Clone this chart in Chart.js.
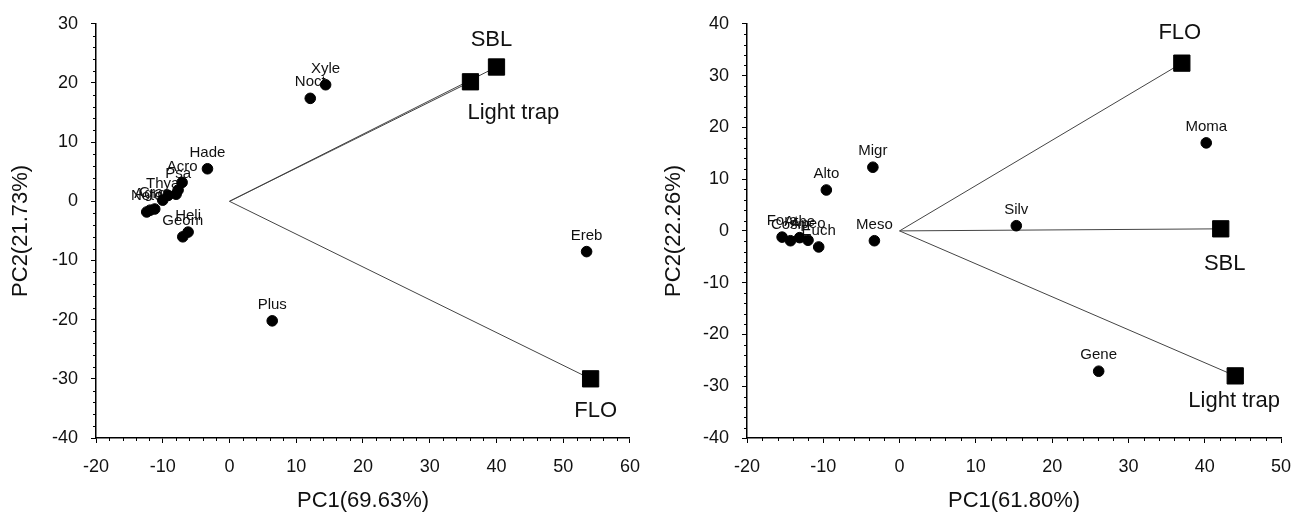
<!DOCTYPE html>
<html lang="en">
<head>
<meta charset="UTF-8">
<title>PCA biplots</title>
<script src="https://cdn.jsdelivr.net/npm/chart.js"></script>
<style>
  html, body { margin: 0; padding: 0; background: #fff; }
  .wrap { display: flex; width: 1307px; height: 519px; }
  .panel { height: 519px; }
</style>
</head>
<body>
<div class="wrap">
  <div class="panel"><canvas id="pcaLeft" width="653" height="519"></canvas></div>
  <div class="panel"><canvas id="pcaRight" width="654" height="519"></canvas></div>
</div>
<script>
// left biplot - taxa scores
const leftTaxa = ['Xyle', 'Noct', 'Hade', 'Acro', 'Psa', '', '', 'Thya', 'Cras', 'Agro', 'Noto', 'Heli', 'Geom', 'Ereb', 'Plus'];
const leftTaxaX = [14.4, 12.1, -3.3, -7.1, -7.7, -8.0, -9.2, -10.0, -11.2, -11.9, -12.4, -6.2, -7.0, 53.5, 6.4];
const leftTaxaY = [19.7, 17.4, 5.5, 3.2, 1.9, 1.2, 1.0, 0.2, -1.3, -1.5, -1.8, -5.2, -6.0, -8.5, -20.2];
// left biplot - method vectors
const leftMethods = ['SBL', 'Light trap', 'FLO'];
const leftMethodX = [40.0, 36.1, 54.1];
const leftMethodY = [22.7, 20.2, -30.0];
const leftXTicks = [-20, -10, 0, 10, 20, 30, 40, 50, 60];
const leftYTicks = [-40, -30, -20, -10, 0, 10, 20, 30];

// right biplot - taxa scores
const rightTaxa = ['Alto', 'Migr', 'Meso', 'Silv', 'Moma', 'Gene', 'Fora', 'Cosm', 'Athe', 'Apeo', 'Euch'];
const rightTaxaX = [-9.6, -3.5, -3.3, 15.3, 40.2, 26.1, -15.4, -14.3, -13.1, -12.0, -10.6];
const rightTaxaY = [7.9, 12.3, -1.9, 1.0, 17.0, -27.1, -1.2, -1.9, -1.3, -1.8, -3.1];
// right biplot - method vectors
const rightMethods = ['FLO', 'SBL', 'Light trap'];
const rightMethodX = [37.0, 42.1, 44.0];
const rightMethodY = [32.4, 0.4, -28.0];
const rightXTicks = [-20, -10, 0, 10, 20, 30, 40, 50];
const rightYTicks = [-40, -30, -20, -10, 0, 10, 20, 30, 40];

const minorStep = 2;
const FONT = "'Liberation Sans', Arial, sans-serif";

// where each method name sits relative to its square: [dx, dy, align]
const leftMethodLabel = { 'SBL': [-5, -27, 'center'], 'Light trap': [-3, 31, 'left'], 'FLO': [5, 32, 'center'] };
const rightMethodLabel = { 'FLO': [-2, -30, 'center'], 'SBL': [4, 35, 'center'], 'Light trap': [-1, 25, 'center'] };

function pts(xs, ys) {
    return xs.map((x, i) => ({ x: x, y: ys[i] }));
}

// draws taxa names under the markers, and method names
const labelPlugin = {
    id: 'pointLabels',
    beforeDatasetsDraw(chart) {
        const ctx = chart.ctx;
        const sx = chart.scales.x, sy = chart.scales.y;
        const p = chart.options.plugins.pointLabels;
        ctx.save();
        ctx.fillStyle = '#111';
        ctx.textBaseline = 'middle';
        ctx.font = '15px ' + FONT;
        ctx.textAlign = 'center';
        p.taxa.forEach((name, i) => {
            if (!name) return;
            ctx.fillText(name, sx.getPixelForValue(p.tx[i]), sy.getPixelForValue(p.ty[i]) - 16);
        });
        ctx.font = '22px ' + FONT;
        p.methods.forEach((name, i) => {
            const [dx, dy, align] = p.placement[name];
            ctx.textAlign = align;
            ctx.fillText(name, sx.getPixelForValue(p.mx[i]) + dx, sy.getPixelForValue(p.my[i]) + dy);
        });
        ctx.restore();
    }
};

// small outward ticks between the labelled ones
const minorTickPlugin = {
    id: 'minorTicks',
    afterDraw(chart) {
        const ctx = chart.ctx;
        const area = chart.chartArea;
        const sx = chart.scales.x, sy = chart.scales.y;
        ctx.save();
        ctx.strokeStyle = '#000';
        ctx.lineWidth = 1;
        ctx.beginPath();
        for (let v = sx.min; v <= sx.max; v += minorStep) {
            if (v % 10 === 0) continue;
            const x = Math.round(sx.getPixelForValue(v)) + 0.5;
            ctx.moveTo(x, area.bottom);
            ctx.lineTo(x, area.bottom + 3);
        }
        for (let v = sy.min; v <= sy.max; v += minorStep) {
            if (v % 10 === 0) continue;
            const y = Math.round(sy.getPixelForValue(v)) + 0.5;
            ctx.moveTo(area.left, y);
            ctx.lineTo(area.left - 3, y);
        }
        ctx.stroke();
        ctx.restore();
    }
};

function makeBiplot(id, d) {
    const datasets = [
        {
            data: pts(d.tx, d.ty),
            backgroundColor: '#000',
            borderColor: '#000',
            pointRadius: 5.3,
            pointHoverRadius: 5.3,
            order: 0
        },
        {
            data: pts(d.mx, d.my),
            backgroundColor: '#000',
            borderColor: '#000',
            pointStyle: 'rect',
            pointRadius: 11.5,
            pointHoverRadius: 11.5,
            order: 1
        }
    ];
    // vector from the origin to each method
    d.mx.forEach((x, i) => {
        datasets.push({
            type: 'line',
            data: [{ x: 0, y: 0 }, { x: x, y: d.my[i] }],
            borderColor: '#444',
            borderWidth: 1,
            pointRadius: 0,
            fill: false,
            order: 2
        });
    });

    const axisFont = { family: FONT, size: 18 };
    const titleFont = { family: FONT, size: 22 };

    return new Chart(document.getElementById(id), {
        type: 'scatter',
        data: { datasets: datasets },
        plugins: [labelPlugin, minorTickPlugin],
        options: {
            responsive: false,
            animation: false,
            devicePixelRatio: 1,
            layout: { padding: { top: 20, right: d.padRight, left: 0, bottom: 0 } },
            plugins: {
                legend: { display: false },
                tooltip: { enabled: false },
                pointLabels: { taxa: d.taxa, tx: d.tx, ty: d.ty, methods: d.methods, mx: d.mx, my: d.my, placement: d.placement }
            },
            scales: {
                x: {
                    type: 'linear',
                    min: d.xTicks[0],
                    max: d.xTicks[d.xTicks.length - 1],
                    afterBuildTicks: s => { s.ticks = d.xTicks.map(v => ({ value: v })); },
                    afterFit: s => { s.height = 81; },
                    grid: { drawOnChartArea: false, drawTicks: true, tickLength: 5, tickColor: '#000' },
                    border: { display: true, color: '#000', width: 1.5 },
                    ticks: { color: '#111', font: axisFont, padding: 13, maxRotation: 0 },
                    title: { display: true, text: d.xTitle, color: '#111', font: titleFont, padding: { top: 0, bottom: 5 } }
                },
                y: {
                    type: 'linear',
                    min: d.yTicks[0],
                    max: d.yTicks[d.yTicks.length - 1],
                    afterBuildTicks: s => { s.ticks = d.yTicks.map(v => ({ value: v })); },
                    afterFit: s => { s.width = d.yWidth; },
                    grid: { drawOnChartArea: false, drawTicks: true, tickLength: 5, tickColor: '#000' },
                    border: { display: true, color: '#000', width: 1.5 },
                    ticks: { color: '#111', font: axisFont, padding: 13 },
                    title: { display: true, text: d.yTitle, color: '#111', font: titleFont, padding: { top: 8, bottom: 0 } }
                }
            }
        }
    });
}

makeBiplot('pcaLeft', {
    taxa: leftTaxa, tx: leftTaxaX, ty: leftTaxaY,
    methods: leftMethods, mx: leftMethodX, my: leftMethodY,
    placement: leftMethodLabel,
    xTicks: leftXTicks, yTicks: leftYTicks,
    xTitle: 'PC1(69.63%)', yTitle: 'PC2(21.73%)',
    yWidth: 96, padRight: 23
});

makeBiplot('pcaRight', {
    taxa: rightTaxa, tx: rightTaxaX, ty: rightTaxaY,
    methods: rightMethods, mx: rightMethodX, my: rightMethodY,
    placement: rightMethodLabel,
    xTicks: rightXTicks, yTicks: rightYTicks,
    xTitle: 'PC1(61.80%)', yTitle: 'PC2(22.26%)',
    yWidth: 94, padRight: 26
});
</script>
</body>
</html>
